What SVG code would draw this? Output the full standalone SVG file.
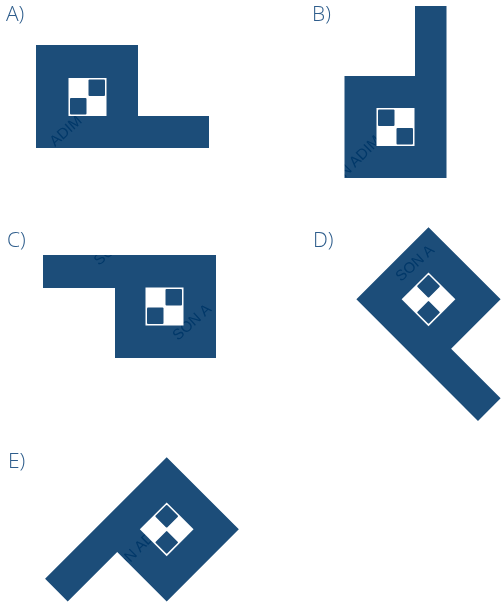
<svg xmlns="http://www.w3.org/2000/svg" width="501" height="604" viewBox="0 0 501 604">
<style>
.shape{fill:#1c4d79}
.lbl{font-family:"Open Sans","Liberation Sans",sans-serif;font-weight:300;font-size:21px;fill:#2e5d8c}
.wm{font-family:"Liberation Sans",Arial,sans-serif;font-size:15px;fill:#e4e4e4;mix-blend-mode:color-burn}
.cw{fill:#ffffff}
.cd{fill:#1c4d79}
</style>
<defs>
<g id="chk">
<rect class="cw" x="-19" y="-19" width="38" height="38"/>
<rect class="cd" x="1" y="-17.5" width="16.5" height="16.5" rx="1"/>
<rect class="cd" x="-17.5" y="1" width="16.5" height="16.5" rx="1"/>
</g>
</defs>
<rect width="501" height="604" fill="#ffffff"/>

<g id="option-a">
<text class="lbl" x="6" y="21">A)</text>
<path class="shape" d="M36,45 H138 V116 H209 V148 H36 Z"/>
<use href="#chk" transform="translate(87.5,97)"/>
<text class="wm" x="55" y="147" transform="rotate(-42 55 147)">ADIM</text>
</g>

<g id="option-b">
<text class="lbl" x="312" y="21">B)</text>
<path class="shape" d="M344.5,76 H415 V6 H446.5 V178 H344.5 Z"/>
<use href="#chk" transform="translate(395.5,127) scale(-1,1)"/>
<text class="wm" x="345" y="178" transform="rotate(-45 345 178)">N ADIM</text>
</g>

<g id="option-c">
<text class="lbl" x="7" y="247">C)</text>
<path class="shape" d="M43,255 H216 V358 H115 V288 H43 Z"/>
<use href="#chk" transform="translate(164.5,306.5)"/>
<text class="wm" x="99" y="266" transform="rotate(-40 99 266)">SO</text>
<text class="wm" x="178" y="341" transform="rotate(-42 178 341)">SON A</text>
</g>

<g id="option-d">
<text class="lbl" x="313" y="247">D)</text>
<g transform="translate(428.5,299.3) rotate(45)">
<path class="shape" d="M-51,-51 H51 V19 H121 V51 H-51 Z"/>
<use href="#chk" transform="scale(-1,1)"/>
</g>
<text class="wm" x="401" y="282" transform="rotate(-42 401 282)">SON A</text>
</g>

<g id="option-e">
<text class="lbl" x="8" y="468">E)</text>
<g transform="translate(166.7,529.3) rotate(-45)">
<path class="shape" d="M-121,-51 H51 V51 H-51 V-19 H-121 Z"/>
<use href="#chk"/>
</g>
<text class="wm" x="122" y="571" transform="rotate(-45 122 571)">ON ADIM</text>
</g>
</svg>
